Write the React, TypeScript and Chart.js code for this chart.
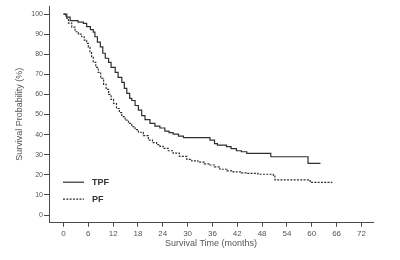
import React, { useEffect, useRef } from 'react';
import { Chart, registerables } from 'chart.js';

Chart.register(...registerables);

const seriesNames = ['TPF', 'PF'];

const tpfTimes = [0, 0.8, 1.6, 3.5, 4.8, 5.6, 6.5, 7.2, 7.6, 8.2, 8.9, 9.5, 10.1, 10.9, 11.5, 12.5, 13.2, 14.1, 14.7, 15.3, 16.0, 16.5, 17.3, 18.1, 18.9, 19.7, 20.9, 22.1, 23.3, 24.5, 25.5, 26.5, 27.8, 29.0, 35.4, 36.5, 37.2, 39.4, 40.5, 41.8, 43.0, 44.3, 50.1, 59.1, 62.1];
const tpfSurvival = [100, 98.5, 96.7, 96, 95.4, 93.7, 92.2, 91, 88.7, 86, 83.7, 80.5, 78, 76, 73.5, 71, 68.5, 66, 63, 60.5, 58, 57, 54.5, 52.2, 49.5, 47.5, 45.6, 44.2, 43.3, 41.8, 41, 40.3, 39.3, 38.5, 37.3, 35.5, 34.8, 34, 33, 32, 31.5, 30.7, 29, 25.7, 25.7];

const pfTimes = [0, 0.6, 1.2, 2.0, 2.8, 3.6, 4.4, 5.0, 5.6, 6.0, 6.4, 6.8, 7.2, 7.8, 8.4, 9.0, 9.7, 10.3, 10.9, 11.5, 12.1, 12.8, 13.5, 14.1, 14.9, 15.7, 16.5, 17.3, 18.1, 19.3, 20.5, 21.5, 22.5, 23.3, 24.1, 25.3, 26.5, 28.0, 29.8, 31.0, 32.5, 34.0, 35.4, 36.5, 37.8, 39.5, 41.0, 43.0, 44.3, 47.0, 50.7, 51.1, 59.6, 65.0];
const pfSurvival = [100, 98, 95.5, 93.5, 91.2, 90, 88.7, 87, 85.4, 83.5, 81.2, 78.5, 76, 73.5, 71, 68, 65, 62.5, 60, 57.5, 55.5, 53, 51, 49, 47.2, 45.6, 44, 42.5, 41.2, 39.5, 37.3, 36, 35, 34.2, 33.2, 32, 30.8, 29.2, 27.7, 27, 26.3, 25.5, 24.9, 24, 22.8, 22, 21.5, 21, 20.7, 20.3, 19.9, 17.5, 16.3, 16.3];

const xTicks = [0, 6, 12, 18, 24, 30, 36, 42, 48, 54, 60, 66, 72];
const yTicks = [0, 10, 20, 30, 40, 50, 60, 70, 80, 90, 100];

const xTitle = 'Survival Time (months)';
const yTitle = 'Survival Probability (%)';

const lineColor = '#2e2e2e';
const textColor = '#555555';
const axisColor = '#4a4a4a';
const fontFamily = 'Arial, "Liberation Sans", Helvetica, sans-serif';

const toPoints = (xs: number[], ys: number[]) => xs.map((x, i) => ({ x, y: ys[i] }));

const legendPlugin = {
  id: 'kmLegend',
  afterDraw(chart: any) {
    const { ctx, chartArea } = chart;
    const items = [
      { label: seriesNames[0], dash: [] as number[], dy: 40.5 },
      { label: seriesNames[1], dash: [2, 1.3], dy: 23.5 },
    ];
    ctx.save();
    items.forEach((it) => {
      const y = chartArea.bottom - it.dy;
      ctx.beginPath();
      ctx.setLineDash(it.dash);
      ctx.strokeStyle = lineColor;
      ctx.lineWidth = 1.2;
      ctx.moveTo(chartArea.left + 14, y);
      ctx.lineTo(chartArea.left + 35, y);
      ctx.stroke();
      ctx.setLineDash([]);
      ctx.fillStyle = '#333333';
      ctx.font = `bold 9px ${fontFamily}`;
      ctx.textBaseline = 'middle';
      ctx.textAlign = 'left';
      ctx.fillText(it.label, chartArea.left + 43, y + 0.5);
    });
    ctx.restore();
  },
};

export default function App() {
  const canvasRef = useRef<HTMLCanvasElement | null>(null);

  useEffect(() => {
    if (!canvasRef.current) return;
    const chart = new Chart(canvasRef.current, {
      type: 'line',
      data: {
        datasets: [
          {
            label: seriesNames[0],
            data: toPoints(tpfTimes, tpfSurvival),
            borderColor: lineColor,
            borderWidth: 1.2,
            pointRadius: 0,
            stepped: 'before',
            fill: false,
          },
          {
            label: seriesNames[1],
            data: toPoints(pfTimes, pfSurvival),
            borderColor: lineColor,
            borderWidth: 1.2,
            borderDash: [2, 1.3],
            pointRadius: 0,
            stepped: 'before',
            fill: false,
          },
        ],
      },
      options: {
        animation: false,
        responsive: false,
        devicePixelRatio: 1,
        layout: { padding: { top: 6, right: 27, left: 0, bottom: 0 } },
        plugins: {
          legend: { display: false },
          tooltip: { enabled: false },
        },
        scales: {
          x: {
            type: 'linear',
            min: -3.5,
            max: 74.8,
            afterBuildTicks: (scale: any) => {
              scale.ticks = xTicks.map((v) => ({ value: v }));
            },
            afterFit: (scale: any) => {
              scale.height = 37.3;
            },
            grid: {
              display: true,
              drawOnChartArea: false,
              drawTicks: true,
              tickLength: 4,
              color: axisColor,
            },
            border: { display: true, color: axisColor, width: 1 },
            ticks: {
              color: textColor,
              font: { size: 8, family: fontFamily },
              padding: 2,
              maxRotation: 0,
              autoSkip: false,
            },
            title: {
              display: true,
              text: xTitle,
              color: textColor,
              font: { size: 9, family: fontFamily },
              padding: { top: 0, bottom: 10.6 },
            },
          },
          y: {
            type: 'linear',
            min: -3.8,
            max: 104,
            afterBuildTicks: (scale: any) => {
              scale.ticks = yTicks.map((v) => ({ value: v }));
            },
            afterFit: (scale: any) => {
              scale.width = 49;
            },
            grid: {
              display: true,
              drawOnChartArea: false,
              drawTicks: true,
              tickLength: 5,
              color: axisColor,
            },
            border: { display: true, color: axisColor, width: 1 },
            ticks: {
              color: textColor,
              font: { size: 7, family: fontFamily },
              padding: 1,
              autoSkip: false,
            },
            title: {
              display: true,
              text: yTitle,
              color: textColor,
              font: { size: 9, family: fontFamily },
              padding: { top: 14.6, bottom: 0 },
            },
          },
        },
      },
      plugins: [legendPlugin],
    } as any);
    return () => chart.destroy();
  }, []);

  return (
    <div style={{ position: 'fixed', left: 0, top: 0, width: 400, height: 260, background: '#ffffff' }}>
      <canvas ref={canvasRef} width={400} height={260} style={{ display: 'block', width: 400, height: 260 }} />
    </div>
  );
}
